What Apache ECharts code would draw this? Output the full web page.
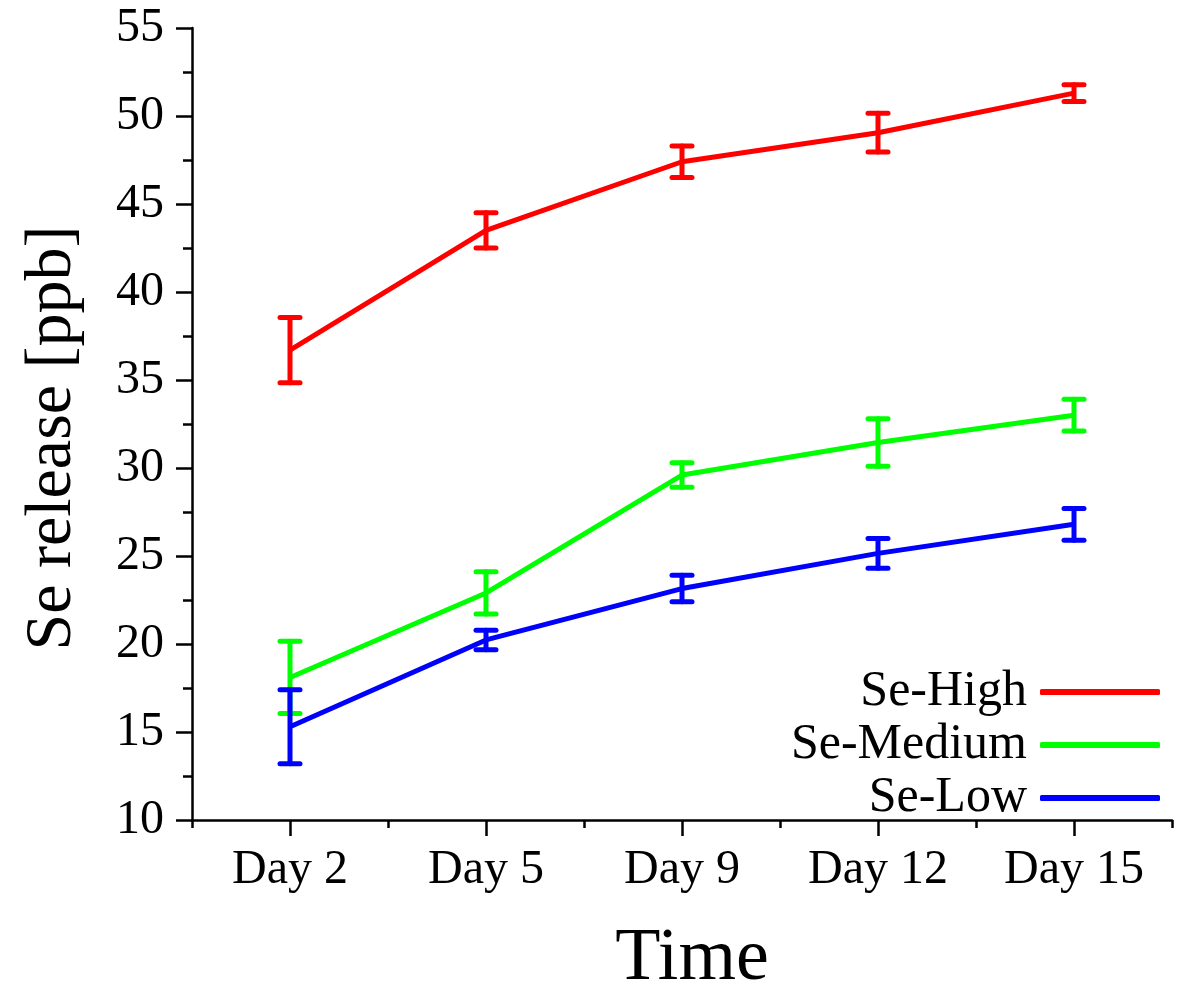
<!DOCTYPE html>
<html>
<head>
<meta charset="utf-8">
<script src="https://cdn.jsdelivr.net/npm/echarts@6/dist/echarts.min.js"></script>
<style>
html,body{margin:0;padding:0;background:#fff;}
#chart{width:1182px;height:987px;}
</style>
</head>
<body>
<div id="chart"></div>
<script>
const categories = ['Day 2', 'Day 5', 'Day 9', 'Day 12', 'Day 15'];
const seriesNames = ['Se-High', 'Se-Medium', 'Se-Low'];
const highMean = [36.7, 43.5, 47.4, 49.05, 51.3];
const highErr  = [1.85, 1.0, 0.9, 1.1, 0.48];
const medMean  = [18.1, 22.9, 29.6, 31.45, 33.0];
const medErr   = [2.05, 1.2, 0.7, 1.35, 0.9];
const lowMean  = [15.3, 20.23, 23.15, 25.15, 26.8];
const lowErr   = [2.1, 0.55, 0.75, 0.85, 0.9];
const colors = ['#ff0000', '#00ff00', '#0000ff'];
const yTicks = { min: 10, max: 55, interval: 5 };

const FONT = "'Liberation Serif', 'Times New Roman', serif";

function errData(mean, err) {
  return mean.map((m, i) => [i, m - err[i], m + err[i]]);
}

function errSeries(mean, err, color) {
  return {
    type: 'custom',
    xAxisIndex: 0,
    yAxisIndex: 0,
    silent: true,
    z: 3,
    data: errData(mean, err),
    encode: { x: 0, y: [1, 2] },
    renderItem: function (params, api) {
      const i = api.value(0);
      const lo = api.coord([i, api.value(1)]);
      const hi = api.coord([i, api.value(2)]);
      const hw = 10;
      const st = { stroke: color, lineWidth: 5, lineCap: 'round' };
      return {
        type: 'group',
        children: [
          { type: 'line', shape: { x1: lo[0], y1: lo[1], x2: hi[0], y2: hi[1] }, style: st },
          { type: 'line', shape: { x1: lo[0] - hw, y1: lo[1], x2: lo[0] + hw, y2: lo[1] }, style: st },
          { type: 'line', shape: { x1: hi[0] - hw, y1: hi[1], x2: hi[0] + hw, y2: hi[1] }, style: st }
        ]
      };
    }
  };
}

function lineSeries(name, mean, color) {
  return {
    name: name,
    type: 'line',
    xAxisIndex: 0,
    data: mean,
    symbol: 'none',
    z: 4,
    lineStyle: { color: color, width: 5 },
    itemStyle: { color: color }
  };
}

const chart = echarts.init(document.getElementById('chart'), null, { renderer: 'canvas' });
chart.setOption({
  backgroundColor: '#fff',
  animation: false,
  grid: { left: 192, right: 10, top: 28, bottom: 167, containLabel: false, outerBoundsMode: 'none' },
  legend: {
    orient: 'vertical',
    right: 17,
    top: 662,
    align: 'right',
    itemWidth: 120,
    itemHeight: 6,
    itemGap: 3,
    icon: 'roundRect',
    data: seriesNames,
    textStyle: { fontFamily: FONT, fontSize: 50, color: '#000', lineHeight: 50, padding: [0, 8, 0, 0] }
  },
  xAxis: [
    {
      type: 'category',
      data: categories,
      boundaryGap: true,
      name: 'Time',
      nameLocation: 'middle',
      nameGap: 103,
      nameTextStyle: { fontFamily: FONT, fontSize: 74, color: '#000', padding: [0, 0, 0, 20] },
      axisLine: { show: true, lineStyle: { color: '#000', width: 2.5 } },
      axisTick: { show: true, alignWithLabel: true, length: 16, lineStyle: { color: '#000', width: 2.5 } },
      axisLabel: { fontFamily: FONT, fontSize: 48, color: '#000', margin: 26 },
      splitLine: { show: false }
    },
    {
      type: 'category',
      data: categories,
      boundaryGap: true,
      position: 'bottom',
      axisLine: { show: false },
      axisTick: { show: true, alignWithLabel: false, length: 8, lineStyle: { color: '#000', width: 2.5 } },
      axisLabel: { show: false },
      splitLine: { show: false }
    }
  ],
  yAxis: {
    type: 'value',
    min: yTicks.min,
    max: yTicks.max,
    interval: yTicks.interval,
    name: 'Se release [ppb]',
    nameLocation: 'middle',
    nameGap: 106,
    nameTextStyle: { fontFamily: FONT, fontSize: 66, color: '#000', padding: [0, 28, 0, 0] },
    axisLine: { show: true, lineStyle: { color: '#000', width: 2.5 } },
    axisTick: { show: true, length: 16, lineStyle: { color: '#000', width: 2.5 } },
    minorTick: { show: true, splitNumber: 2, length: 9, lineStyle: { color: '#000', width: 2.5 } },
    axisLabel: { fontFamily: FONT, fontSize: 48, color: '#000', margin: 28 },
    splitLine: { show: false }
  },
  series: [
    lineSeries(seriesNames[0], highMean, colors[0]),
    lineSeries(seriesNames[1], medMean, colors[1]),
    lineSeries(seriesNames[2], lowMean, colors[2]),
    errSeries(highMean, highErr, colors[0]),
    errSeries(medMean, medErr, colors[1]),
    errSeries(lowMean, lowErr, colors[2])
  ]
});
</script>
</body>
</html>
